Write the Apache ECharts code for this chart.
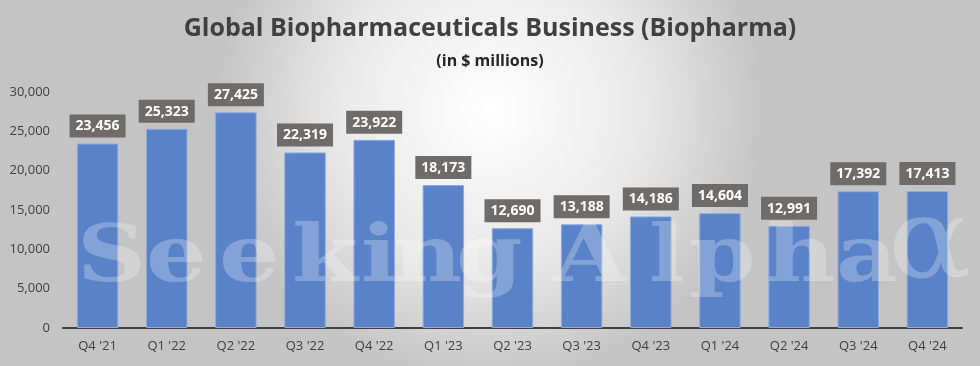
<!DOCTYPE html>
<html><head><meta charset="utf-8">
<script src="https://cdn.jsdelivr.net/npm/echarts@6/dist/echarts.min.js"></script>
<style>html,body{margin:0;padding:0;}#c{width:980px;height:366px;}</style>
</head><body><div id="c"></div>
<script>
const categories = ["Q4 '21","Q1 '22","Q2 '22","Q3 '22","Q4 '22","Q1 '23","Q2 '23","Q3 '23","Q4 '23","Q1 '24","Q2 '24","Q3 '24","Q4 '24"];
const biopharma = [23456,25323,27425,22319,23922,18173,12690,13188,14186,14604,12991,17392,17413];
const yTicks = {min:0, max:30000, interval:5000};
const titleText = "Global Biopharmaceuticals Business (Biopharma)";
const subtitleText = "(in $ millions)";
const watermarkText = "SeekingAlphaα";

// watermark glyph left edges (layout only)
const wmX = [77,146,219,292,361,393,456,553,649,689,766,836,888];

const chart = echarts.init(document.getElementById('c'), null, {renderer:'canvas'});
const font = "'Open Sans', 'Noto Sans', sans-serif";
const wmGraphics = watermarkText.split('').map((ch,i)=>{
  const big = ch === 'α';
  return {
    type:'text', x:wmX[i], y: big ? 304 : 300, silent:true, z:50,
    scaleX: big ? 1.1 : 1.22,
    style:{text:ch, font: big ? "normal 112px 'DejaVu Serif', serif" : "bold 78px 'DejaVu Serif', serif",
      fill:'rgba(255,255,255,0.26)', verticalAlign:'bottom', align:'left'}
  };
});
chart.setOption({
  backgroundColor: {
    type:'radial', x:0.5, y:0.3, r:0.75,
    colorStops:[{offset:0,color:'#ffffff'},{offset:0.55,color:'#e9e9e9'},{offset:1,color:'#c4c4c4'}]
  },
  title: [
    {text:titleText, left:'center', top:11, textStyle:{fontFamily:font, fontSize:25, fontWeight:'bold', color:'#404040'}},
    {text:subtitleText, left:'center', top:48, textStyle:{fontFamily:font, fontSize:16, fontWeight:'bold', color:'#262626'}}
  ],
  graphic: wmGraphics,
  grid:{left:63, right:18, top:92, bottom:38, containLabel:false},
  xAxis:{
    type:'category', data:categories,
    axisLine:{lineStyle:{color:'#404040', width:2}},
    axisTick:{show:false},
    axisLabel:{fontFamily:font, fontSize:13, color:'#404040', margin:12}
  },
  yAxis:{
    type:'value', min:yTicks.min, max:yTicks.max, interval:yTicks.interval,
    splitLine:{show:false}, axisLine:{show:false}, axisTick:{show:false},
    axisLabel:{fontFamily:font, fontSize:13, color:'#404040', margin:13,
      formatter:v=>v.toLocaleString('en-US')}
  },
  series:[{
    type:'bar', data:biopharma, barWidth:'60%', z:2,
    itemStyle:{color:'#5a82c8', borderColor:'#8fabdc', borderWidth:1},
    label:{show:true, position:'top', distance:6,
      formatter:p=>p.value.toLocaleString('en-US'),
      fontFamily:font, fontSize:14, fontWeight:'bold', color:'#ffffff',
      backgroundColor:'#6f6b69', padding:[5,6,4,6]}
  }]
});
</script></body></html>
